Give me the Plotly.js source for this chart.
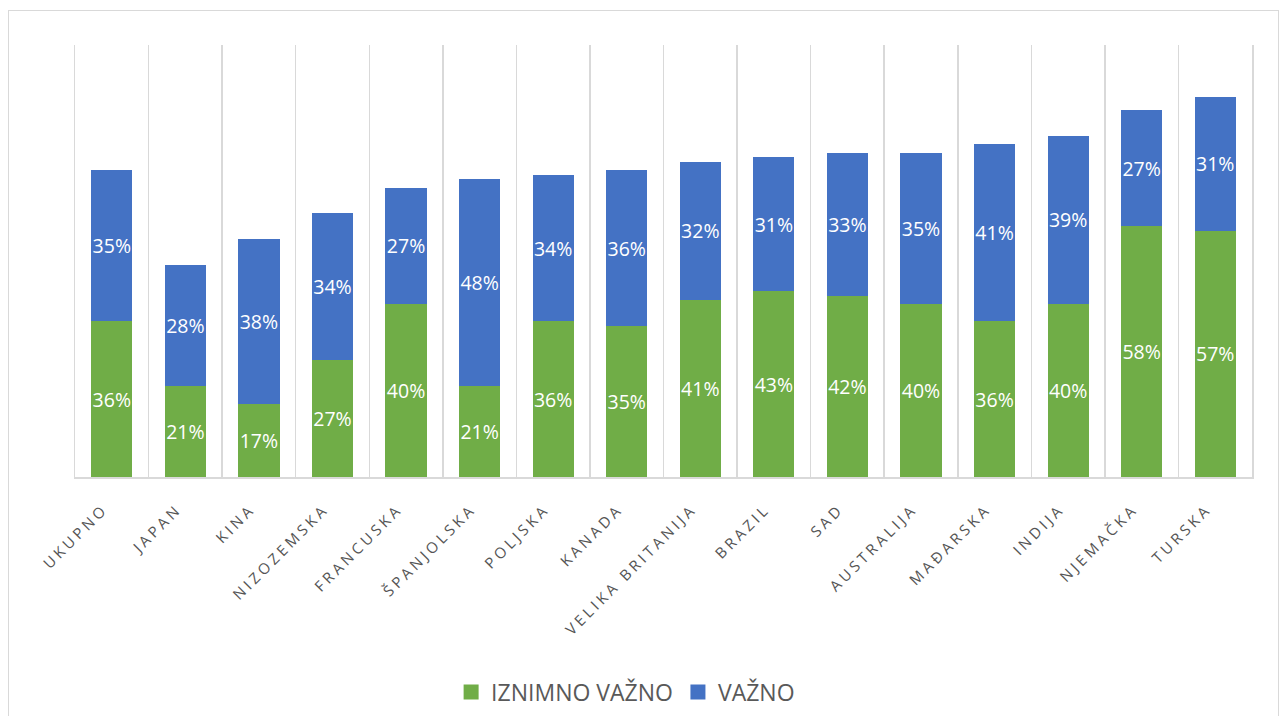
<!DOCTYPE html>
<html>
<head>
<meta charset="utf-8">
<script src="https://cdn.plot.ly/plotly-3.0.1.min.js"></script>
<style>
  html, body { margin: 0; padding: 0; background: #fff; }
  #wrap { position: relative; width: 1282px; height: 716px; }
  #chart { width: 1282px; height: 716px; }
  #frame { position: absolute; left: 8px; top: 10px; width: 1271px; height: 720px;
           border: 1px solid #d9d9d9; pointer-events: none; box-sizing: border-box; }
  .xtick text { letter-spacing: 3.5px; }
</style>
</head>
<body>
<div id="wrap">
  <div id="chart"></div>
  <div id="frame"></div>
</div>
<script>
const categories = ["UKUPNO", "JAPAN", "KINA", "NIZOZEMSKA", "FRANCUSKA", "ŠPANJOLSKA", "POLJSKA", "KANADA",
  "VELIKA BRITANIJA", "BRAZIL", "SAD", "AUSTRALIJA", "MAĐARSKA", "INDIJA", "NJEMAČKA", "TURSKA"];
const iznimnoVazno = [0.36, 0.21, 0.17, 0.27, 0.40, 0.21, 0.36, 0.35, 0.41, 0.43, 0.42, 0.40, 0.36, 0.40, 0.58, 0.57];
const vazno = [0.35, 0.28, 0.38, 0.34, 0.27, 0.48, 0.34, 0.36, 0.32, 0.31, 0.33, 0.35, 0.41, 0.39, 0.27, 0.31];
const seriesNames = ["IZNIMNO VAŽNO", "VAŽNO"];

const labelFont = { family: "Open Sans, sans-serif", size: 19.5, color: "#ffffff" };

const traces = [
  { type: "bar", name: seriesNames[0], x: categories, y: iznimnoVazno,
    marker: { color: "#70AD47" }, texttemplate: "%{y:.0%}", textposition: "inside", textangle: 0,
    insidetextanchor: "middle", insidetextfont: labelFont, constraintext: "none", hoverinfo: "skip" },
  { type: "bar", name: seriesNames[1], x: categories, y: vazno,
    marker: { color: "#4472C4" }, texttemplate: "%{y:.0%}", textposition: "inside", textangle: 0,
    insidetextanchor: "middle", insidetextfont: labelFont, constraintext: "none", hoverinfo: "skip" }
];

const layout = {
  width: 1282, height: 716,
  margin: { l: 75, r: 30, t: 45, b: 239, autoexpand: false },
  barmode: "stack",
  bargap: 0.44,
  paper_bgcolor: "#ffffff",
  plot_bgcolor: "#ffffff",
  font: { family: "Open Sans, sans-serif", color: "#595959" },
  xaxis: {
    type: "category",
    tickangle: -45,
    tickson: "boundaries",
    ticks: "",
    showgrid: true,
    gridcolor: "#d9d9d9",
    gridwidth: 1.5,
    showline: true,
    linecolor: "#d9d9d9",
    linewidth: 1.5,
    ticklabelstandoff: 16,
    ticklabelshift: -8,
    tickfont: { size: 15, color: "#555555", family: "Open Sans, sans-serif" },
    automargin: false
  },
  yaxis: {
    range: [0, 1],
    showticklabels: false,
    showgrid: false,
    zeroline: false,
    showline: true,
    mirror: true,
    linecolor: "#d9d9d9",
    linewidth: 1.5,
    ticks: ""
  },
  showlegend: true,
  legend: {
    orientation: "h",
    xref: "container", yref: "container",
    x: 0.488, xanchor: "center",
    y: 0.0335, yanchor: "middle",
    font: { size: 23, color: "#595959", family: "Open Sans, sans-serif" },
    traceorder: "normal"
  }
};

Plotly.newPlot("chart", traces, layout, { staticPlot: true, displayModeBar: false }).then(function () {
  document.querySelectorAll(".legendpoints path").forEach(function (p) {
    const t = p.getAttribute("transform") || "";
    p.setAttribute("transform", t + " scale(1.25)");
  });
});
</script>
</body>
</html>
